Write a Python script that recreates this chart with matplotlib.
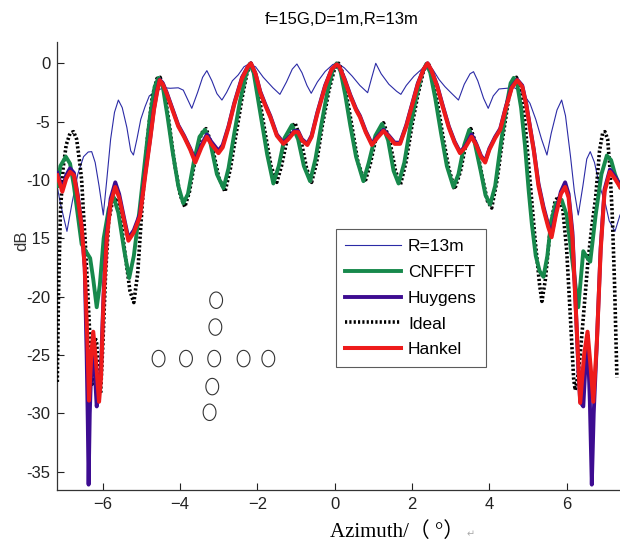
import matplotlib
matplotlib.use("Agg")
import matplotlib.pyplot as plt
import numpy as np
from matplotlib.path import Path

plt.rcParams['font.family'] = ['Liberation Sans', 'DejaVu Sans']

# ---------------- data ----------------
r13_x = [-7.18, -7.1, -6.93, -6.8, -6.65, -6.5, -6.38, -6.29, -6.2, -6.1, -5.99, -5.9, -5.8, -5.7, -5.6,
         -5.5, -5.38, -5.28, -5.21, -5.12, -5.02, -4.91, -4.8, -4.6, -4.4, -4.26, -4.05, -3.92, -3.7,
         -3.55, -3.42, -3.31, -3.18, -3.05, -2.92, -2.8, -2.65, -2.5, -2.35, -2.22, -2.05, -1.85, -1.6,
         -1.42, -1.25, -1.1, -0.98, -0.85, -0.72, -0.61, -0.45, -0.25, -0.05, 0.08, 0.25, 0.45, 0.65,
         0.85, 0.95, 1.06, 1.2, 1.4, 1.6, 1.71, 1.85, 2.05, 2.25, 2.4, 2.55, 2.7, 2.85, 3.0, 3.2, 3.35,
         3.5, 3.59, 3.7, 3.85, 3.97, 4.1, 4.25, 4.45, 4.65, 4.85, 5.05, 5.2, 5.35, 5.49, 5.6, 5.75, 5.87,
         5.97, 6.1, 6.2, 6.3, 6.42, 6.52, 6.61, 6.72, 6.85, 7.0, 7.1, 7.25, 7.38]
r13_y = [-10.6, -12.0, -14.4, -12.0, -9.5, -8.0, -7.6, -7.57, -8.5, -10.5, -13.0, -10.0, -6.5, -4.2, -3.15,
         -3.8, -5.5, -7.5, -7.86, -6.5, -4.8, -3.72, -2.8, -2.3, -2.1, -2.14, -2.1, -2.3, -3.86,
         -2.5, -1.2, -0.63, -1.5, -2.6, -3.15, -2.5, -1.5, -1.0, -0.3, -0.05, -0.3, -1.2, -2.1,
         -2.66, -1.6, -0.5, -0.06, -0.8, -1.9, -2.57, -1.6, -0.7, -0.1, 0.0, -0.4, -1.1, -1.9,
         -2.52, -1.3, 0.0, -0.9, -1.8, -2.4, -2.66, -1.9, -1.1, -0.5, -0.1, -0.6, -1.4, -2.0, -2.5, -3.15, -1.8,
         -0.9, -0.72, -1.5, -3.0, -3.86, -2.8, -2.2, -2.14, -2.1, -2.5, -3.43, -4.8, -6.5, -7.86, -6.0, -4.0, -3.15,
         -4.5, -8.0, -11.0, -13.0, -10.5, -8.2, -7.57, -8.5, -10.5, -12.0, -13.5, -14.4, -13.0]

cn_x = [-7.18, -7.1, -6.96, -6.85, -6.75, -6.65, -6.55, -6.46, -6.33, -6.25, -6.16, -6.08, -5.98, -5.85,
        -5.73, -5.6, -5.45, -5.32, -5.2, -5.05, -4.9, -4.78, -4.66, -4.56, -4.45, -4.33, -4.2, -4.05,
        -3.92, -3.8, -3.65, -3.5, -3.36, -3.22, -3.05, -2.88, -2.75, -2.6, -2.45, -2.3, -2.2, -2.1, -2.0,
        -1.88, -1.75, -1.59, -1.45, -1.3, -1.11, -0.95, -0.8, -0.64, -0.5, -0.35, -0.2, -0.05, 0.05, 0.15,
        0.27, 0.4, 0.55, 0.74, 0.88, 1.05, 1.22, 1.38, 1.52, 1.65, 1.8, 1.95, 2.1, 2.25, 2.37, 2.47, 2.6,
        2.75, 2.9, 3.07, 3.2, 3.35, 3.48, 3.62, 3.78, 3.9, 4.02, 4.15, 4.3, 4.45, 4.55, 4.63, 4.72, 4.82,
        4.92, 5.02, 5.1, 5.2, 5.3, 5.4, 5.5, 5.6, 5.72, 5.87, 6.0, 6.15, 6.3, 6.43, 6.52, 6.61, 6.75, 6.9,
        7.04, 7.15, 7.25, 7.38]
cn_y = [-10.5, -8.8, -8.0, -8.6, -10.5, -13.0, -15.5, -16.0, -16.7, -18.5, -20.9, -19.0, -15.0, -12.5,
        -11.4, -12.8, -16.0, -18.4, -16.5, -12.5, -8.0, -4.5, -2.0, -1.25, -2.0, -4.5, -7.5, -10.5,
        -12.0, -11.2, -8.5, -6.3, -5.7, -6.8, -9.5, -10.7, -9.0, -6.0, -3.2, -1.0, -0.05, -0.8, -2.8,
        -5.2, -7.8, -10.3, -8.8, -6.4, -5.3, -6.5, -8.8, -10.1, -8.2, -5.3, -2.6, -0.5, 0.0, -0.7,
        -2.7, -5.3, -8.0, -10.1, -8.5, -6.2, -5.2, -6.6, -9.2, -10.3, -8.5, -5.5, -3.0, -0.9, -0.05, -0.8, -3.0,
        -6.0, -8.8, -10.6, -9.5, -7.0, -5.7, -6.8, -9.3, -11.3, -12.1, -10.5, -6.8, -3.5, -1.7, -1.25, -1.8, -3.8,
        -7.0, -11.0, -13.8, -16.5, -17.8, -18.3, -16.5, -13.5, -12.0, -11.7, -13.0, -17.0, -20.9, -16.1, -16.6, -17.0, -13.0, -9.5,
        -7.9, -8.3, -9.5, -10.6]

hk_x = [-7.18, -7.05, -6.95, -6.85, -6.75, -6.65, -6.55, -6.47, -6.40, -6.36, -6.30, -6.25, -6.18, -6.10,
        -6.05, -5.98, -5.90, -5.80, -5.68, -5.58, -5.45, -5.34, -5.2, -5.04, -4.9, -4.78, -4.68, -4.6,
        -4.53, -4.45, -4.35, -4.2, -4.05, -3.9, -3.74, -3.61, -3.45, -3.31, -3.2, -3.01, -2.9, -2.75, -2.6,
        -2.4, -2.25, -2.17, -2.05, -1.93, -1.8, -1.67, -1.5, -1.33, -1.2, -1.05, -0.95, -0.85, -0.71, -0.6,
        -0.45, -0.25, -0.08, 0.05, 0.12, 0.25, 0.4, 0.55, 0.65, 0.8, 0.96, 1.1, 1.26, 1.4, 1.55, 1.69,
        1.85, 2.0, 2.15, 2.3, 2.4, 2.5, 2.65, 2.8, 2.95, 3.1, 3.24, 3.38, 3.54, 3.66, 3.78, 3.89, 4.0,
        4.15, 4.28, 4.42, 4.58, 4.72, 4.85, 4.95, 5.05, 5.15, 5.27, 5.4, 5.52, 5.61, 5.72, 5.85, 5.96,
        6.05, 6.15, 6.25, 6.35, 6.45, 6.54, 6.62, 6.69, 6.78, 6.88, 6.98, 7.12, 7.25, 7.38]
hk_y = [-9.6, -11.0, -9.9, -9.3, -9.6, -11.5, -14.0, -17.5, -24.0, -28.9, -25.0, -23.0, -25.5, -29.0,
        -27.0, -20.0, -15.0, -12.0, -10.6, -11.5, -13.5, -15.2, -14.5, -13.1, -9.5, -6.6, -4.0, -2.5,
        -1.45, -1.8, -2.6, -4.0, -5.4, -6.3, -7.4, -8.5, -7.2, -6.3, -6.9, -7.7, -7.2, -5.5, -3.5,
        -1.3, -0.3, 0.0, -0.9, -2.5, -3.6, -4.6, -6.2, -6.9, -6.5, -5.9, -5.9, -6.6, -7.0, -6.3,
        -4.3, -2.0, -0.5, -0.1, -0.3, -1.4, -2.8, -4.0, -4.6, -5.9, -7.0, -6.4, -5.8, -6.3, -6.9, -6.9,
        -5.4, -3.6, -1.8, -0.5, 0.0, -0.6, -2.0, -3.8, -5.5, -6.8, -7.7, -7.2, -6.3, -7.0, -8.0, -8.5, -7.4,
        -6.4, -5.7, -3.9, -2.1, -1.45, -2.0, -3.5, -5.5, -7.5, -10.5, -12.5, -14.0, -14.9, -13.0, -11.2, -10.6,
        -11.5, -15.0, -22.0, -29.1, -25.0, -23.0, -26.0, -29.0, -24.0, -16.0, -11.0, -9.3, -9.9, -10.6]

hy_x = [-7.18, -7.05, -6.95, -6.85, -6.75, -6.65, -6.55, -6.47, -6.42, -6.39, -6.37, -6.34, -6.30, -6.25,
        -6.20, -6.16, -6.12, -6.05, -5.98, -5.90, -5.80, -5.68, -5.58, -5.45, -5.34, -5.2, -5.04, -4.9,
        -4.78, -4.68, -4.6, -4.53, -4.45, -4.35, -4.2, -4.05, -3.9, -3.74, -3.61, -3.45, -3.31, -3.2, -3.01,
        -2.9, -2.75, -2.6, -2.4, -2.25, -2.17, -2.05, -1.93, -1.8, -1.67, -1.5, -1.33, -1.2, -1.05, -0.95,
        -0.85, -0.71, -0.6, -0.45, -0.25, -0.08, 0.05, 0.12, 0.25, 0.4, 0.55, 0.65, 0.8, 0.96, 1.1, 1.26,
        1.4, 1.55, 1.69, 1.85, 2.0, 2.15, 2.3, 2.4, 2.5, 2.65, 2.8, 2.95, 3.1, 3.24, 3.38, 3.54, 3.66,
        3.78, 3.89, 4.0, 4.15, 4.28, 4.42, 4.58, 4.72, 4.85, 4.95, 5.05, 5.15, 5.27, 5.4, 5.52, 5.61,
        5.72, 5.85, 5.96, 6.05, 6.15, 6.25, 6.3, 6.35, 6.43, 6.5, 6.54, 6.6, 6.65, 6.7, 6.78, 6.88, 6.98,
        7.12, 7.25, 7.38]
hy_y = [-9.4, -10.8, -9.6, -9.0, -9.4, -11.3, -14.0, -17.5, -25.0, -31.0, -36.1, -30.0, -26.0, -23.5,
        -27.0, -29.4, -28.0, -26.0, -19.5, -14.6, -11.6, -10.2, -11.2, -13.3, -15.0, -14.3, -12.9, -9.3,
        -6.5, -3.9, -2.4, -1.4, -1.7, -2.5, -3.9, -5.3, -6.2, -7.3, -8.3, -7.0, -6.1, -6.7, -7.5,
        -7.0, -5.4, -3.4, -1.2, -0.3, 0.0, -0.9, -2.4, -3.5, -4.5, -6.1, -6.8, -6.4, -5.8, -5.8,
        -6.5, -6.9, -6.2, -4.2, -1.9, -0.5, -0.1, -0.3, -1.3, -2.7, -3.9, -4.5, -5.8, -6.9, -6.3, -5.7,
        -6.2, -6.8, -6.8, -5.3, -3.5, -1.7, -0.5, 0.0, -0.6, -1.9, -3.7, -5.4, -6.7, -7.6, -7.1, -6.1, -6.9,
        -7.9, -8.4, -7.3, -6.3, -5.6, -3.8, -2.0, -1.4, -1.9, -3.4, -5.4, -7.4, -10.3, -12.3, -13.8, -14.7,
        -12.8, -11.0, -10.2, -11.2, -14.5, -22.0, -26.0, -29.0, -29.4, -25.0, -23.3, -29.0, -36.1, -30.0, -24.0, -15.8, -10.8,
        -9.1, -9.7, -10.4]

id_x = [-7.18, -7.15, -7.1, -7.03, -6.95, -6.85, -6.76, -6.68, -6.6, -6.55, -6.5, -6.46, -6.4, -6.33,
        -6.28, -6.24, -6.2, -6.16, -6.1, -6.06, -6.0, -5.93, -5.85, -5.75, -5.66, -5.55, -5.42, -5.3,
        -5.2, -5.1, -4.98, -4.85, -4.72, -4.6, -4.52, -4.42, -4.3, -4.15, -4.0, -3.88, -3.76, -3.6, -3.45,
        -3.33, -3.18, -3.0, -2.84, -2.7, -2.55, -2.4, -2.27, -2.17, -2.07, -1.95, -1.8, -1.65, -1.5, -1.38,
        -1.2, -1.03, -0.88, -0.73, -0.6, -0.47, -0.32, -0.15, 0.0, 0.1, 0.2, 0.32, 0.45, 0.6, 0.78, 0.92,
        1.08, 1.26, 1.42, 1.57, 1.7, 1.84, 2.0, 2.15, 2.3, 2.42, 2.52, 2.65, 2.8, 2.95, 3.1, 3.25, 3.4,
        3.52, 3.66, 3.82, 3.95, 4.06, 4.2, 4.35, 4.5, 4.62, 4.7, 4.8, 4.92, 5.05, 5.18, 5.3, 5.36, 5.45,
        5.58, 5.7, 5.79, 5.9, 6.0, 6.1, 6.18, 6.22, 6.28, 6.35, 6.45, 6.55, 6.65, 6.75, 6.85, 6.93, 6.99,
        7.06, 7.12, 7.18, 7.24, 7.3]
id_y = [-27.3, -20.0, -12.8, -9.0, -7.0, -6.0, -5.86, -6.5, -8.5, -10.0, -13.0, -15.1, -19.0, -24.0,
        -27.5, -26.0, -23.5, -24.0, -27.0, -28.3, -24.0, -18.0, -13.5, -11.8, -11.5, -13.0, -16.5, -19.5,
        -20.5, -18.0, -12.0, -6.5, -2.8, -1.3, -1.2, -2.2, -4.8, -8.5, -11.3, -12.3, -11.0, -8.0, -6.0,
        -5.6, -7.0, -9.8, -11.0, -9.0, -6.0, -3.0, -0.8, 0.0, -0.8, -3.0, -6.0, -8.8, -10.2, -8.8,
        -6.0, -5.1, -6.5, -9.0, -10.2, -8.5, -5.3, -2.3, -0.4, 0.0, -0.8, -3.0, -5.5, -8.5, -10.2, -8.6,
        -6.2, -5.1, -6.6, -9.2, -10.4, -8.5, -5.3, -2.7, -0.6, 0.0, -0.9, -3.2, -6.3, -9.0, -10.8, -9.3, -6.8,
        -5.6, -7.0, -9.8, -11.8, -12.4, -10.0, -6.3, -3.0, -1.4, -1.2, -2.0, -5.0, -10.0, -15.0, -19.0, -20.4, -18.5,
        -14.0, -11.8, -11.4, -12.5, -16.0, -22.0, -27.0, -28.0, -27.0, -25.0, -21.0, -17.0, -14.0, -11.5, -7.5, -6.0, -5.86,
        -6.5, -9.0, -13.0, -19.0, -26.9]

# array element positions (schematic inset)
elem_x = [-3.07, -3.09, -4.56, -3.85, -3.12, -2.36, -1.72, -3.17, -3.24]
elem_y = [-20.3, -22.6, -25.3, -25.3, -25.3, -25.3, -25.3, -27.7, -29.9]

xticks = [-6, -4, -2, 0, 2, 4, 6]
yticks = [0, -5, -10, -15, -20, -25, -30, -35]
ytick_labels = ['0', '-5', '-10', '-15', '-20', '-25', '-30', '-35']

# ---------------- figure ----------------
fig = plt.figure(figsize=(6.2, 5.46), dpi=100)
ax = fig.add_axes([57.3 / 620, 56 / 546, (620 - 57.3) / 620, (490 - 41.7) / 546])

ax.plot(r13_x, r13_y, color='#2b2ba6', lw=0.8, label='R=13m', zorder=2)
ax.plot(id_x, id_y, color='black', lw=2.6, ls=(0, (0.6, 0.6)), label='Ideal', zorder=3)
ax.plot(cn_x, cn_y, color='#17894c', lw=2.8, label='CNFFFT', zorder=4)
ax.plot(hy_x, hy_y, color='#3d0c91', lw=2.8, label='Huygens', zorder=5)
ax.plot(hk_x, hk_y, color='#ee1b1b', lw=2.9, label='Hankel', zorder=6)

# elliptical element markers
t = np.linspace(0, 2 * np.pi, 60)
ell = Path(np.column_stack([0.78 * np.cos(t), np.sin(t)]))
ax.scatter(elem_x, elem_y, marker=ell, s=140, facecolors='none', edgecolors='#333333',
           linewidths=0.8, zorder=7)

ax.set_xlim(-7.18, 7.38)
ax.set_ylim(-36.56, 1.85)
ax.set_xticks(xticks)
ax.set_yticks(yticks)
ax.set_yticklabels(ytick_labels)
ax.tick_params(direction='in', length=5, width=0.8, labelsize=12, colors='#222222', pad=5)
for s in ['top', 'right']:
    ax.spines[s].set_visible(False)
for s in ['left', 'bottom']:
    ax.spines[s].set_color('#333333')
    ax.spines[s].set_linewidth(0.9)

h, l = ax.get_legend_handles_labels()
order = ['R=13m', 'CNFFFT', 'Huygens', 'Ideal', 'Hankel']
hd = {lab: hh for hh, lab in zip(h, l)}
leg = ax.legend([hd[o] for o in order], order, loc='upper left', bbox_to_anchor=(0.495, 0.582),
                borderaxespad=0, fontsize=12.5, frameon=True, fancybox=False, edgecolor='#333333',
                handlelength=3.2, labelspacing=0.62, borderpad=0.55, handletextpad=0.4)
leg.get_frame().set_linewidth(0.8)

ax.set_ylabel('dB', fontsize=12, color='#333333',
              bbox=dict(facecolor='white', edgecolor='none', pad=3.0))
ax.yaxis.set_label_coords(-0.05, 0.555)
ax.yaxis.label.set_zorder(10)

fig.text(342 / 620, 1 - 20 / 546, 'f=15G,D=1m,R=13m', ha='center', va='center', fontsize=12)
fig.text(397 / 620, 1 - 532 / 546, 'Azimuth/（ °）', ha='center', va='center', fontsize=15,
         family=['Liberation Serif', 'Noto Sans CJK SC'])
fig.text(471 / 620, 1 - 534 / 546, '↵', ha='center', va='center', fontsize=7, color='#aaaaaa',
         family=['DejaVu Sans'])

fig.savefig('out.png', dpi=100)
